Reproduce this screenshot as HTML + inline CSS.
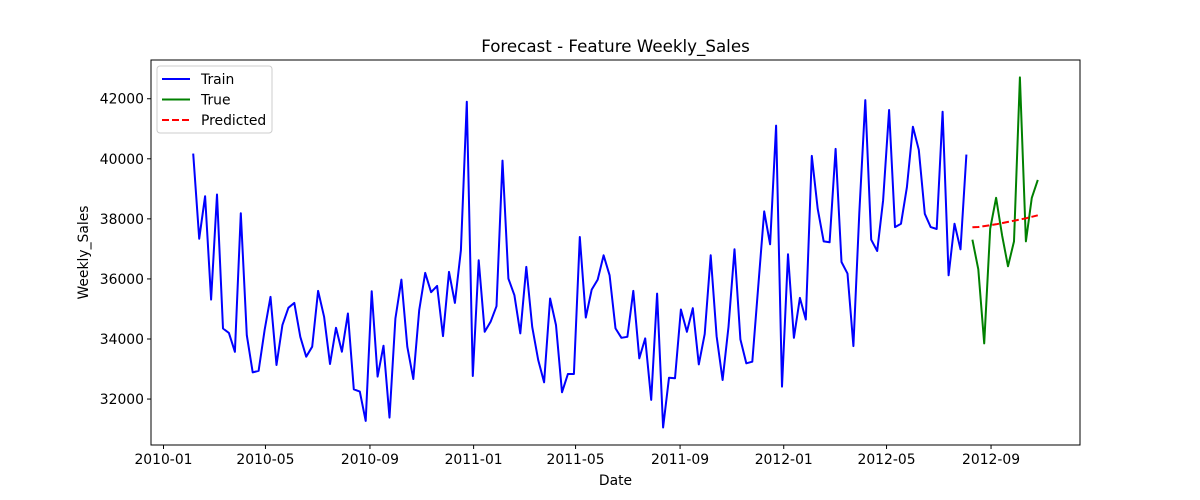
<!DOCTYPE html>
<html><head><meta charset="utf-8"><style>
body{margin:0;background:#fff;}
svg{display:block;font-family:"DejaVu Sans","Liberation Sans",sans-serif;}
</style></head><body>
<svg id="chart" width="1200" height="500" xmlns="http://www.w3.org/2000/svg"></svg>
<script>
const trainValues=[40174,37339,38754,35312,38811,34349,34203,33572,38190,34126,32887,32940,34295,35403,33133,34461,35037,35203,34074,33410,33742,35602,34738,33166,34373,33576,34849,32325,32248,31273,35591,32746,33775,31384,34683,35978,33742,32668,34960,36200,35557,35768,34096,36233,35203,36952,41900,32768,36620,34240,34572,35092,39941,36011,35458,34185,36399,34406,33299,32557,35347,34461,32225,32834,32834,37395,34716,35646,35978,36786,36122,34351,34041,34074,35602,33355,34019,31971,35513,31052,32712,32690,34982,34240,35026,33155,34163,36786,34096,32635,34406,36985,33986,33189,33244,35735,38248,37152,41104,32414,36820,34041,35369,34650,40096,38336,37251,37218,40329,36565,36177,33764,38200,41956,37306,36930,38613,41624,37727,37838,39055,41070,40295,38170,37727,37661,41568,36122,37838,36985,40140];
const trueValues=[37306,36321,33852,37672,38701,37451,36421,37251,42709,37251,38701,39299];
const predValues=[37720,37730,37760,37790,37820,37860,37900,37940,37980,38020,38070,38120];
const trainStart="2010-02-05";
const testStart="2012-08-10";
const xTickLabels=["2010-01","2010-05","2010-09","2011-01","2011-05","2011-09","2012-01","2012-05","2012-09"];
const yTickValues=[32000,34000,36000,38000,40000,42000];

const L=151,R=1080,T=60,B=445;
const FS=13.9;
const day=864e5;
const t0=Date.parse("2010-01-01T00:00:00Z");
const dMin=(Date.parse("2010-02-05T00:00:00Z")-t0)/day, dMax=(Date.parse("2012-10-26T00:00:00Z")-t0)/day;
const pad=(dMax-dMin)*0.05;
function xs(d){return L+(d-(dMin-pad))/((dMax+pad)-(dMin-pad))*(R-L);}
const yMin=30470,yMax=43290;
function ys(v){return B-(v-yMin)/(yMax-yMin)*(B-T);}
function dayOf(s){return (Date.parse(s+"T00:00:00Z")-t0)/day;}
const svg=document.getElementById('chart');
const NS="http://www.w3.org/2000/svg";
function mk(tag,attrs,parent){const e=document.createElementNS(NS,tag);for(const k in attrs)e.setAttribute(k,attrs[k]);(parent||svg).appendChild(e);return e;}

const frame=mk('rect',{x:L,y:T,width:R-L,height:B-T,fill:'none',stroke:'#000','stroke-width':1});



function series(vals,start,color,dash,name){
  const s=dayOf(start);
  const pts=vals.map((v,i)=>xs(s+7*i).toFixed(1)+','+ys(v).toFixed(1)).join(' ');
  const p=mk('polyline',{points:pts,fill:'none',stroke:color,'stroke-width':2,'stroke-dasharray':dash||'none','stroke-linejoin':'round'});
  
  
}
series(trainValues,trainStart,'#0000ff',null,'train-line');
series(trueValues,testStart,'#008000',null,'true-line');
series(predValues,testStart,'#ff0000','7,3','predicted-line');

xTickLabels.forEach(lbl=>{
  const x=xs(dayOf(lbl+"-01"));
  mk('line',{x1:x,x2:x,y1:B,y2:B+4,stroke:'#000'});
  const t=mk('text',{x:x,y:B+19,'text-anchor':'middle','font-size':FS,fill:'#000'});
  t.textContent=lbl;
  
  
});
yTickValues.forEach(v=>{
  const y=ys(v);
  mk('line',{x1:L-4,x2:L,y1:y,y2:y,stroke:'#000'});
  const t=mk('text',{x:L-7,y:y+5,'text-anchor':'end','font-size':FS,fill:'#000'});
  t.textContent=v;
  
  
});
const title=mk('text',{x:(L+R)/2,y:52,'text-anchor':'middle','font-size':16.7,fill:'#000'});
title.textContent='Forecast - Feature Weekly_Sales';


const xl=mk('text',{x:(L+R)/2,y:485,'text-anchor':'middle','font-size':FS,fill:'#000'});
xl.textContent='Date';


const yl=mk('text',{x:0,y:0,'text-anchor':'middle','font-size':FS,fill:'#000',transform:'translate(88,'+((T+B)/2)+') rotate(-90)'});
yl.textContent='Weekly_Sales';



const lg=mk('g',{});


mk('rect',{x:157,y:66,width:115,height:67,rx:3,fill:'#fff','fill-opacity':0.8,stroke:'#ccc'},lg);
const entries=[['Train','#0000ff',null],['True','#008000',null],['Predicted','#ff0000','7,3']];
entries.forEach((e,i)=>{
  const y=79+i*20.5;
  const g=mk('g',{},lg);
  
  
  mk('line',{x1:162,x2:190,y1:y,y2:y,stroke:e[1],'stroke-width':2,'stroke-dasharray':e[2]||'none'},g);
  const t=mk('text',{x:201,y:y+5,'font-size':FS,fill:'#000'},g);
  t.textContent=e[0];
});
</script>
</body></html>
